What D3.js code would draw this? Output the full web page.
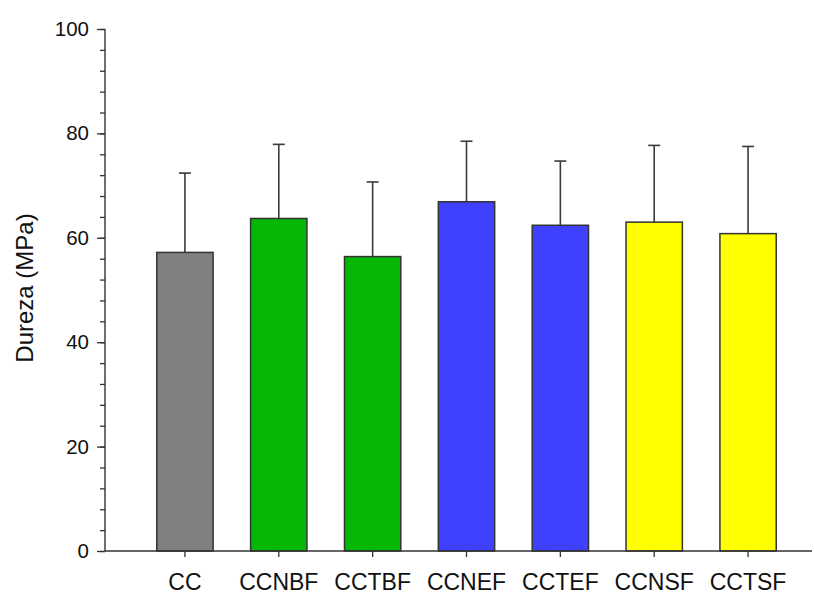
<!DOCTYPE html>
<html>
<head>
<meta charset="utf-8">
<script src="https://cdn.jsdelivr.net/npm/d3@7"></script>
<style>
  html, body { margin: 0; padding: 0; background: #fff; }
  svg { display: block; font-family: Arial, "Liberation Sans", sans-serif; }
</style>
</head>
<body>
<svg id="chart" width="814" height="596"></svg>
<script>
// Hardness (Dureza) per sample group, mean and upper error bar
const categories = ["CC", "CCNBF", "CCTBF", "CCNEF", "CCTEF", "CCNSF", "CCTSF"];
const means      = [57.2, 63.7, 56.4, 66.9, 62.4, 63.0, 60.8];
const errorTops  = [72.4, 77.9, 70.7, 78.5, 74.7, 77.7, 77.5];
const barColors  = ["#808080", "#05b805", "#05b805", "#4040ff", "#4040ff", "#ffff00", "#ffff00"];
const yTicks     = [0, 20, 40, 60, 80, 100];
const yMinorTicks = d3.range(0, 101, 4);
const yTitle = "Dureza (MPa)";

const svg = d3.select("#chart");
const axisLeftX = 105, axisRightX = 812;
const yTop = 29, yBottom = 551;

const x = d3.scaleBand()
  .domain(categories)
  .range([138, 795])
  .paddingInner(0.4)
  .paddingOuter(0.2);

const y = d3.scaleLinear().domain([0, 100]).range([yBottom, yTop]);

const data = categories.map((c, i) => ({ c, m: means[i], e: errorTops[i], col: barColors[i] }));

// error bars (drawn under the bars so the stem starts at the bar top)
const capW = 12;
const eb = svg.append("g").attr("stroke", "#3a3a3a").attr("stroke-width", 1.6);
data.forEach(d => {
  const cx = x(d.c) + x.bandwidth() / 2;
  eb.append("line").attr("x1", cx).attr("x2", cx).attr("y1", y(d.m)).attr("y2", y(d.e));
  eb.append("line").attr("x1", cx - capW / 2).attr("x2", cx + capW / 2).attr("y1", y(d.e)).attr("y2", y(d.e));
});

// bars
svg.append("g").selectAll("rect").data(data).join("rect")
  .attr("x", d => x(d.c))
  .attr("y", d => y(d.m))
  .attr("width", x.bandwidth())
  .attr("height", d => y(0) - y(d.m))
  .attr("fill", d => d.col)
  .attr("stroke", "#333")
  .attr("stroke-width", 1.5);

// y axis with major and minor ticks
const yAxisG = svg.append("g").attr("transform", `translate(${axisLeftX},0)`);
yAxisG.call(d3.axisLeft(y).tickValues(yMinorTicks).tickSize(5).tickFormat(""))
  .call(g => g.select(".domain").remove())
  .call(g => g.selectAll("line").attr("stroke", "#333").attr("stroke-width", 1.3));
yAxisG.append("g").call(d3.axisLeft(y).tickValues(yTicks).tickSize(8).tickPadding(8).tickFormat(d3.format("d")))
  .call(g => g.select(".domain").remove())
  .call(g => g.selectAll("line").attr("stroke", "#333").attr("stroke-width", 1.3))
  .call(g => g.selectAll("text").attr("font-size", 20.5).attr("fill", "#111")
    .attr("font-family", "Arial, 'Liberation Sans', sans-serif"));
yAxisG.append("line").attr("x1", 0).attr("x2", 0).attr("y1", yTop).attr("y2", yBottom)
  .attr("stroke", "#333").attr("stroke-width", 1.4);

// x axis
const xAxisG = svg.append("g").attr("transform", `translate(0,${yBottom})`);
xAxisG.call(d3.axisBottom(x).tickSize(6).tickPadding(17))
  .call(g => g.select(".domain").remove())
  .call(g => g.selectAll("line").attr("stroke", "#333").attr("stroke-width", 1.3))
  .call(g => g.selectAll("text").attr("font-size", 23).attr("fill", "#111")
    .attr("font-family", "Arial, 'Liberation Sans', sans-serif"));
xAxisG.append("line").attr("x1", axisLeftX).attr("x2", axisRightX).attr("y1", 0).attr("y2", 0)
  .attr("stroke", "#333").attr("stroke-width", 1.4);

// y axis title
svg.append("text")
  .attr("transform", `translate(33,288) rotate(-90)`)
  .attr("text-anchor", "middle")
  .attr("font-size", 24)
  .attr("fill", "#111")
  .text(yTitle);
</script>
</body>
</html>
